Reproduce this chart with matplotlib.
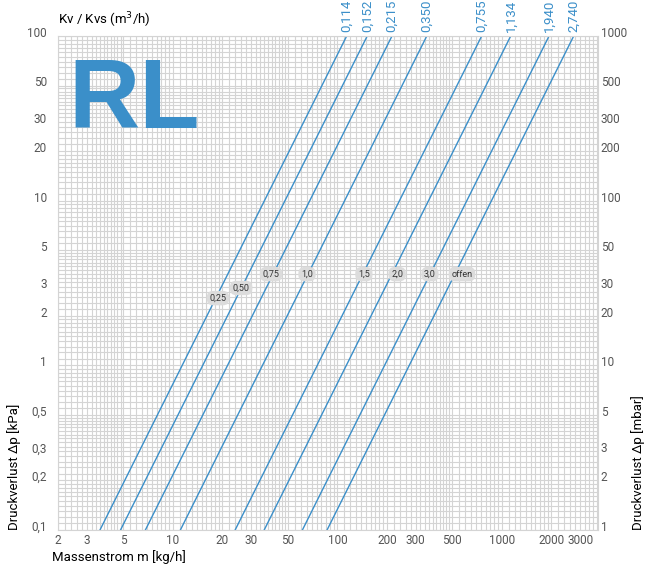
# Druckverlust-Diagramm RL (Kv / Kvs)

import numpy as np
import matplotlib.pyplot as plt
from matplotlib.ticker import FixedLocator, FuncFormatter, NullFormatter
from matplotlib.transforms import ScaledTranslation

# Kv-Werte der Kennlinien
kv_labels = ['0,114', '0,152', '0,215', '0,350', '0,755', '1,134', '1,940', '2,740']
# Massenstrom [kg/h] am unteren (0,1 kPa) und oberen Rand (100 kPa)
flow_bottom = [3.6, 4.8, 6.8, 11.1, 23.9, 35.9, 61.3, 86.6]
flow_top = [114, 152, 215, 350, 755, 1134, 1940, 2740]
dp_bottom, dp_top = 0.1, 100

# Voreinstellungen (Beschriftung auf den Linien)
preset_labels = ['0,25', '0,50', '0,75', '1,0', '1,5', '2,0', '3,0', 'offen']
preset_flow = [18.8, 26.0, 39.5, 65.4, 145, 231, 366, 573]
preset_dp = [2.56, 2.95, 3.58, 3.58, 3.58, 3.58, 3.58, 3.58]

# Achsenbeschriftungen
x_ticks = [2, 3, 5, 10, 20, 30, 50, 100, 200, 300, 500, 1000, 2000, 3000]
y_ticks_kpa = [0.1, 0.2, 0.3, 0.5, 1, 2, 3, 5, 10, 20, 30, 50, 100]
y_ticks_mbar = [1, 2, 3, 5, 10, 20, 30, 50, 100, 200, 300, 500, 1000]

BLUE = '#3b8fc9'
GRID = '#d4d4d4'
TICKC = '#555555'

plt.rcParams['font.family'] = ['Roboto', 'DejaVu Sans']


def comma(v, pos=None):
    s = ('%g' % v).replace('.', ',')
    return s


def fine_grid(lo_exp, hi_exp):
    m = np.concatenate([np.arange(1, 2, 0.1), np.arange(2, 5, 0.2), np.arange(5, 10, 0.5)])
    return [mm * 10.0 ** k for k in range(lo_exp, hi_exp + 1) for mm in m]


fig = plt.figure(figsize=(6.45, 5.70), dpi=100)
ax = fig.add_axes([58 / 645, 1 - 530 / 570, 540 / 645, 494 / 570])
ax.set_xscale('log')
ax.set_yscale('log')
ax.set_xlim(2, 3850)
ax.set_ylim(dp_bottom, dp_top)

# Gitter
ax.xaxis.set_major_locator(FixedLocator(x_ticks))
ax.xaxis.set_major_formatter(FuncFormatter(comma))
ax.xaxis.set_minor_locator(FixedLocator(fine_grid(0, 3)))
ax.xaxis.set_minor_formatter(NullFormatter())
ax.yaxis.set_major_locator(FixedLocator(y_ticks_kpa))
ax.yaxis.set_major_formatter(FuncFormatter(comma))
ax.yaxis.set_minor_locator(FixedLocator(fine_grid(-1, 2)))
ax.yaxis.set_minor_formatter(NullFormatter())
ax.grid(which='both', color=GRID, lw=0.8)
ax.set_axisbelow(True)
ax.tick_params(which='both', length=0, colors=TICKC, labelsize=8.5)
ax.tick_params(axis='y', pad=8)
ax.tick_params(axis='x', pad=3)
for sp in ax.spines.values():
    sp.set_color(GRID)
    sp.set_linewidth(0.8)

# Kennlinien
for lab, f0, f1 in zip(kv_labels, flow_bottom, flow_top):
    ax.plot([f0, f1], [dp_bottom, dp_top], color=BLUE, lw=1.0)
    ax.annotate(lab, (f1, dp_top), xytext=(0, 3), textcoords='offset points',
                rotation=90, ha='center', va='bottom', color=BLUE,
                fontsize=9.5, annotation_clip=False)

# Voreinstellungen
for lab, f, dp in zip(preset_labels, preset_flow, preset_dp):
    ax.text(f, dp, lab, ha='center', va='center', fontsize=6.5, color='#333333',
            bbox=dict(boxstyle='round,pad=0.3,rounding_size=0.7', fc='#dcdcdc', ec='none'))

# rechte Achse in mbar
ax2 = ax.twinx()
ax2.set_yscale('log')
ax2.set_ylim(dp_bottom * 10, dp_top * 10)
ax2.yaxis.set_major_locator(FixedLocator(y_ticks_mbar))
ax2.yaxis.set_major_formatter(FuncFormatter(comma))
ax2.yaxis.set_minor_formatter(NullFormatter())
ax2.tick_params(which='both', length=0, colors=TICKC, labelsize=8.5, pad=2)
for sp in ax2.spines.values():
    sp.set_visible(False)

# Beschriftungen leicht nach oben versetzt wie im Original
shift = ScaledTranslation(0, 3 / 72, fig.dpi_scale_trans)
for a in (ax, ax2):
    for t in a.get_yticklabels():
        t.set_transform(t.get_transform() + shift)

# Texte
fig.text(58 / 645, 1 - 20 / 570, 'Kv / Kvs (m$^3$/h)', ha='left', va='center', fontsize=9.5)
fig.text(52 / 645, 1 - 557 / 570, 'Massenstrom m [kg/h]', ha='left', va='center', fontsize=9.5)
fig.text(14 / 645, 1 - 530 / 570, 'Druckverlust Δp [kPa]', rotation=90,
         ha='center', va='bottom', fontsize=9.5)
fig.text(638 / 645, 1 - 530 / 570, 'Druckverlust Δp [mbar]', rotation=90,
         ha='center', va='bottom', fontsize=9.5)
fig.text(68 / 645, 1 - 128 / 570, 'RL', ha='left', va='baseline', fontsize=71,
         fontweight='bold', color=BLUE, family='Liberation Sans')

fig.savefig('out.png', dpi=100)
